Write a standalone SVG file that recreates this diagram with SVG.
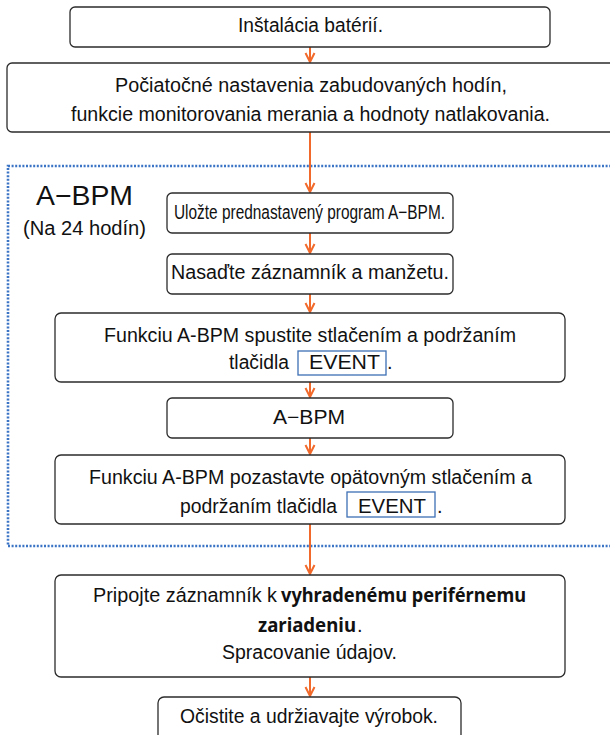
<svg xmlns="http://www.w3.org/2000/svg" width="610" height="735" viewBox="0 0 610 735">
<style>
.box{fill:#fff;stroke:#2b2b2b;stroke-width:1.3}
.ev{fill:none;stroke:#3d6fb4;stroke-width:1.3}
.t{font-family:"Liberation Sans",Arial,sans-serif;font-size:20px;fill:#111;text-anchor:middle}
.ts{font-family:"Liberation Sans",Arial,sans-serif;font-size:20px;fill:#111}
.b{font-family:"Noto Sans","Open Sans",sans-serif;font-weight:bold;font-size:19px;fill:#111}
.c{stroke:#f26a2b;stroke-width:2;fill:none}
</style>
<defs>
<marker id="ah" markerWidth="12" markerHeight="12" refX="10" refY="6" orient="auto" markerUnits="userSpaceOnUse">
<path d="M1,1.5 L10,6 L1,10.5" fill="none" stroke="#f26a2b" stroke-width="2"/>
</marker>
</defs>
<rect x="8" y="166" width="612" height="380" fill="none" stroke="#3b74c4" stroke-width="2.6" stroke-dasharray="2 1.6"/>
<g id="connectors">
<line class="c" x1="310" y1="47" x2="310" y2="62" marker-end="url(#ah)"/>
<line class="c" x1="310" y1="132" x2="310" y2="192" marker-end="url(#ah)"/>
<line class="c" x1="310" y1="233" x2="310" y2="253" marker-end="url(#ah)"/>
<line class="c" x1="310" y1="294" x2="310" y2="312" marker-end="url(#ah)"/>
<line class="c" x1="310" y1="382" x2="310" y2="397" marker-end="url(#ah)"/>
<line class="c" x1="310" y1="438" x2="310" y2="454" marker-end="url(#ah)"/>
<line class="c" x1="310" y1="524" x2="310" y2="574" marker-end="url(#ah)"/>
<line class="c" x1="310" y1="677" x2="310" y2="696" marker-end="url(#ah)"/>
</g>
<g id="label">
<text class="t" x="84.5" y="205" style="font-size:28px" textLength="97" lengthAdjust="spacingAndGlyphs">A−BPM</text>
<text class="t" x="84.5" y="235" textLength="123" lengthAdjust="spacingAndGlyphs">(Na 24 hodín)</text>
</g>
<g id="n1">
<rect class="box" x="70" y="7" width="480" height="40" rx="5"/>
<text class="t" x="310.5" y="32" textLength="145" lengthAdjust="spacingAndGlyphs">Inštalácia batérií.</text>
</g>
<g id="n2">
<rect class="box" x="7" y="63" width="615" height="69" rx="5"/>
<text class="t" x="311" y="92" textLength="392" lengthAdjust="spacingAndGlyphs">Počiatočné nastavenia zabudovaných hodín,</text>
<text class="t" x="310.5" y="121" textLength="479" lengthAdjust="spacingAndGlyphs">funkcie monitorovania merania a hodnoty natlakovania.</text>
</g>
<g id="n3">
<rect class="box" x="167" y="193" width="286" height="40" rx="5"/>
<text class="t" x="309.5" y="219" textLength="271" lengthAdjust="spacingAndGlyphs">Uložte prednastavený program A−BPM.</text>
</g>
<g id="n4">
<rect class="box" x="167" y="254" width="286" height="40" rx="5"/>
<text class="t" x="310" y="279" textLength="278" lengthAdjust="spacingAndGlyphs">Nasaďte záznamník a manžetu.</text>
</g>
<g id="n5">
<rect class="box" x="55" y="313" width="510" height="69" rx="6"/>
<text class="t" x="310" y="342" textLength="412" lengthAdjust="spacingAndGlyphs">Funkciu A-BPM spustite stlačením a podržaním</text>
<text class="ts" x="229" y="369" textLength="60" lengthAdjust="spacingAndGlyphs">tlačidla</text>
<rect class="ev" x="298" y="351" width="88" height="24"/>
<text class="ts" x="309" y="369" textLength="71" lengthAdjust="spacingAndGlyphs">EVENT</text>
<text class="ts" x="387" y="369">.</text>
</g>
<g id="n6">
<rect class="box" x="167" y="398" width="286" height="40" rx="5"/>
<text class="t" x="309" y="424" textLength="72" lengthAdjust="spacingAndGlyphs">A−BPM</text>
</g>
<g id="n7">
<rect class="box" x="55" y="455" width="510" height="69" rx="6"/>
<text class="t" x="310.5" y="484" textLength="443" lengthAdjust="spacingAndGlyphs">Funkciu A-BPM pozastavte opätovným stlačením a</text>
<text class="ts" x="180" y="513" textLength="157" lengthAdjust="spacingAndGlyphs">podržaním tlačidla</text>
<rect class="ev" x="347" y="492" width="88" height="25"/>
<text class="ts" x="358" y="513" textLength="68" lengthAdjust="spacingAndGlyphs">EVENT</text>
<text class="ts" x="437" y="513">.</text>
</g>
<g id="n8">
<rect class="box" x="55" y="575" width="510" height="102" rx="6"/>
<text class="ts" x="93" y="602" textLength="184" lengthAdjust="spacingAndGlyphs">Pripojte záznamník k</text>
<text class="b" x="281" y="602" textLength="245" lengthAdjust="spacingAndGlyphs">vyhradenému periférnemu</text>
<text class="b" x="258" y="632" textLength="98" lengthAdjust="spacingAndGlyphs">zariadeniu</text>
<text class="ts" x="357" y="632">.</text>
<text class="t" x="309.5" y="659" textLength="175" lengthAdjust="spacingAndGlyphs">Spracovanie údajov.</text>
</g>
<g id="n9">
<rect class="box" x="158" y="697" width="303" height="50" rx="6"/>
<text class="t" x="309" y="723" textLength="258" lengthAdjust="spacingAndGlyphs">Očistite a udržiavajte výrobok.</text>
</g>
</svg>
